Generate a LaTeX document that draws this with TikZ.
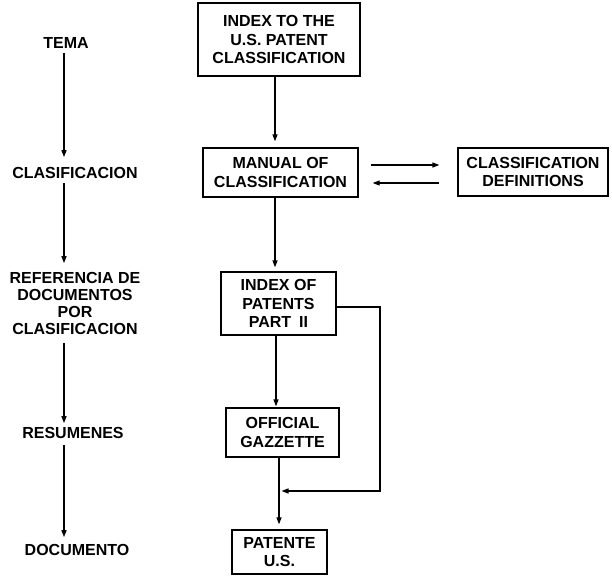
\documentclass[tikz,border=0pt]{standalone}
\usepackage{fontspec}
\setmainfont{Liberation Sans}
\usetikzlibrary{arrows.meta}
\begin{document}
\begin{tikzpicture}[x=1pt,y=-1pt,
  txt/.style={font=\fontsize{16}{18.5}\selectfont\bfseries, align=center, inner sep=0pt},
  lbl/.style={txt},
  box/.style={txt, draw, line width=1.3pt},
  ln/.style={line width=1.3pt},
  arr/.style={ln, -{Triangle[length=7pt,width=5pt]}}]
\useasboundingbox (0,0) rectangle (612,575);
% left column
\node[lbl] (tema) at (66,43) {TEMA};
\node[lbl] (clas) at (75,173) {CLASIFICACION};
\node[lbl, font=\fontsize{16}{17}\selectfont\bfseries] (ref) at (75,303.5) {REFERENCIA DE\\DOCUMENTOS\\POR\\CLASIFICACION};
\node[lbl] (res) at (73,433) {RESUMENES};
\node[lbl] (doc) at (77,550) {DOCUMENTO};
\coordinate (lx) at (64,0);
\draw[arr, shorten <=4pt, shorten >=10pt] (tema.south -| lx) -- (clas.north -| lx);
\draw[arr, shorten <=4pt, shorten >=9pt] (clas.south -| lx) -- (ref.north -| lx);
\draw[arr, shorten <=8pt, shorten >=4pt] (ref.south -| lx) -- (res.north -| lx);
\draw[arr, shorten <=6pt, shorten >=7pt] (res.south -| lx) -- (doc.north -| lx);
% boxes
\node[box, minimum width=162pt, minimum height=73pt] (b1) at (279,39.5) {INDEX TO THE\\U.S. PATENT\\CLASSIFICATION};
\node[box, minimum width=155pt, minimum height=49pt] (b2) at (280.5,172.5) {MANUAL OF\\CLASSIFICATION};
\node[box, minimum width=150pt, minimum height=48pt] (b3) at (533,172) {CLASSIFICATION\\DEFINITIONS};
\node[box, minimum width=115pt, minimum height=63pt] (b4) at (278.5,303.5) {INDEX OF\\PATENTS\\PART\enspace II};
\node[box, minimum width=113pt, minimum height=49pt] (b5) at (282.5,432.5) {OFFICIAL\\GAZZETTE};
\node[box, minimum width=95pt, minimum height=44pt] (b6) at (279.5,552) {PATENTE\\U.S.};
% connectors
\coordinate (cx1) at (275,0);
\coordinate (cx4) at (276,0);
\coordinate (cx5) at (279,0);
\draw[arr, shorten >=6pt] (b1.south -| cx1) -- (b2.north -| cx1);
\draw[arr, shorten >=4pt] (b2.south -| cx1) -- (b4.north -| cx1);
\draw[arr, shorten >=1pt] (b4.south -| cx4) -- (b5.north -| cx4);
\draw[arr, shorten >=5pt] (b5.south -| cx5) -- (b6.north -| cx5);
\coordinate (r1) at (0,165);
\coordinate (r2) at (0,183);
\draw[arr, shorten <=12pt, shorten >=18pt] (b2.east |- r1) -- (b3.west |- r1);
\draw[arr, shorten <=18pt, shorten >=14pt] (b3.west |- r2) -- (b2.east |- r2);
\coordinate (s1) at (380,307);
\coordinate (s2) at (380,491);
\draw[arr, shorten >=2.5pt] (s1 -| b4.east) -- (s1) -- (s2) -- (s2 -| cx5);
\end{tikzpicture}
\end{document}
